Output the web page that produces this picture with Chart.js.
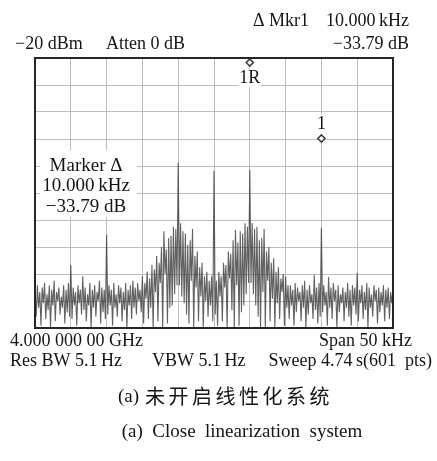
<!DOCTYPE html>
<html>
<head>
<meta charset="utf-8">
<script src="https://cdn.jsdelivr.net/npm/chart.js@4/dist/chart.umd.min.js"></script>
<style>
  html, body { margin: 0; padding: 0; background: #fff; }
  #wrap { width: 437px; height: 461px; position: relative; }
</style>
</head>
<body>
<div id="wrap"><canvas id="spec" width="437" height="461"></canvas></div>
<script>
// ---- sweep setup ----
const spanKHz = 50;
const freqGridKHz = [-25, -20, -15, -10, -5, 0, 5, 10, 15, 20, 25];
const levelGridDBm = [-140, -128, -116, -104, -92, -80, -68, -56, -44, -32, -20];

// ---- measured trace (dBm), left to right across the span ----
const traceLeftNoise = [
  -123, -135, -121, -131, -124, -139, -122, -129, -120, -136,
  -125, -132, -121, -140, -123, -130, -119, -137, -124, -128,
  -122, -134, -126, -131, -121, -138, -123, -133, -120, -135,
  -112, -136, -122, -130, -124, -139, -121, -129, -123, -134,
  -117, -132, -122, -137, -125, -130, -120, -140, -123, -131,
  -121, -135, -124, -128, -119, -138, -122, -133, -123, -136,
  -98.6, -134, -121, -130, -123, -139, -120, -131, -125, -135,
  -121, -129, -122, -137, -124, -132, -120, -140, -123, -130,
  -121, -136, -119, -131, -122, -134, -120, -128
];
const traceLeftTone = [
  -123, -133, -117, -138, -120, -127, -115, -136, -118, -131,
  -112, -140, -114, -124, -108, -137, -111, -120, -104, -140,
  -97, -116, -105, -138, -100, -131, -99, -130, -95, -125,
  -96, -121, -66.6, -121, -93.5, -126, -97, -129, -98, -134,
  -103, -138, -101, -119, -96, -140, -108, -122, -106, -137,
  -113, -126, -111, -140, -117, -128, -115, -135, -119, -130,
  -117, -137
];
const traceCenter = [-70.1];
const traceRightTone = [
  -134, -119, -139, -115, -126, -117, -137, -111, -122, -112,
  -140, -106, -118, -107, -132, -101, -140, -96.4, -121, -102,
  -139, -97, -133, -98, -130, -93.5, -125, -95, -120, -69.7,
  -120, -93.3, -125, -96, -130, -95, -135, -101, -140, -100,
  -124, -96, -140, -106, -119, -104, -137, -111, -127, -109,
  -140, -115, -129, -113, -136, -118, -124, -116, -139, -117,
  -131, -121
];
const traceRightNoise = [
  -136, -121, -130, -123, -139, -120, -133,
  -122, -128, -124, -137, -121, -131, -119, -140, -123, -134,
  -121, -129, -125, -136, -116.4, -132, -122, -138, -120, -135,
  -95.5, -133, -121, -130, -124, -139, -117.3, -131, -122, -136,
  -120, -128, -123, -140, -121, -133, -125, -129, -122, -137,
  -124, -131, -120, -135, -123, -139, -121, -130, -122, -134,
  -115.5, -137, -123, -129, -121, -136, -124, -132, -120, -140,
  -122, -131, -125, -135, -121, -128, -123, -138, -122, -133,
  -124, -130, -121, -137, -123, -131, -122, -136, -124, -129,
  -123
];

// ---- markers ----
const refMarker = { freqKHz: 5, levelDBm: -22.0 };
const deltaMarker = { freqKHz: 10.000, levelDB: -33.79 };

// ---- instrument annotation text ----
const refLevelText = '\u221220 dBm';
const attenText = 'Atten 0 dB';
const centerText = '4.000 000 00 GHz';
const spanText = 'Span ' + spanKHz + ' kHz';
const bwTexts = ['Res BW 5.1\u2009Hz', 'VBW 5.1\u2009Hz', 'Sweep 4.74\u2009s(601  pts)'];
const captionZhTag = '(a)';
const captionZh = '未开启线性化系统';
const captionEn = '(a)  Close  linearization  system';

function fmtDB(v) { return (v < 0 ? '\u2212' : '') + Math.abs(v).toFixed(2) + ' dB'; }
function fmtKHz(v) { return v.toFixed(3) + '\u2009kHz'; }

const trace = [].concat(traceLeftNoise, traceLeftTone, traceCenter, traceRightTone, traceRightNoise);
const step = spanKHz / (trace.length - 1);
const tracePts = trace.map((v, i) => ({ x: -spanKHz / 2 + i * step, y: v }));

const markerPts = [
  { x: refMarker.freqKHz, y: refMarker.levelDBm },
  { x: refMarker.freqKHz + deltaMarker.freqKHz, y: refMarker.levelDBm + deltaMarker.levelDB }
];

const SERIF = '"Liberation Serif", "Times New Roman", serif';
const CJK = '"Noto Sans CJK SC", sans-serif';
const INK = '#141414';

function txt(ctx, s, x, y, size, align, font, spacing) {
  ctx.font = size + 'px ' + (font || SERIF);
  ctx.textAlign = align || 'left';
  ctx.textBaseline = 'middle';
  ctx.fillStyle = INK;
  if ('letterSpacing' in ctx) ctx.letterSpacing = spacing || '0px';
  ctx.fillText(s, x, y);
  if ('letterSpacing' in ctx) ctx.letterSpacing = '0px';
}

const annotate = {
  id: 'annotate',
  beforeDatasetsDraw(chart) {
    const { ctx, scales: { x, y } } = chart;
    ctx.save();
    // marker readout box
    ctx.fillStyle = '#fff';
    ctx.fillRect(40, 150, 97, 67);
    txt(ctx, 'Marker \u0394', 86, 166, 19, 'center');
    txt(ctx, fmtKHz(deltaMarker.freqKHz), 86, 186, 19, 'center');
    txt(ctx, fmtDB(deltaMarker.levelDB), 86, 207, 19, 'center');
    // marker labels
    const rx = x.getPixelForValue(markerPts[0].x), ry = y.getPixelForValue(markerPts[0].y);
    ctx.fillStyle = '#fff';
    ctx.fillRect(rx - 11, ry + 5, 22, 20);
    txt(ctx, '1R', rx, ry + 16, 18, 'center');
    const mx = x.getPixelForValue(markerPts[1].x), my = y.getPixelForValue(markerPts[1].y);
    ctx.fillStyle = '#fff';
    ctx.fillRect(mx - 6, my - 24, 12, 19);
    txt(ctx, '1', mx, my - 14, 18, 'center');
    ctx.restore();
  },
  afterDatasetsDraw(chart) {
    const { ctx, chartArea: a } = chart;
    ctx.save();
    ctx.strokeStyle = '#262626';
    ctx.lineWidth = 2;
    ctx.strokeRect(a.left, a.top, a.right - a.left, a.bottom - a.top);
    ctx.restore();
  },
  afterDraw(chart) {
    const { ctx } = chart;
    ctx.save();
    txt(ctx, '\u0394 Mkr1', 253, 21, 18, 'left');
    txt(ctx, fmtKHz(deltaMarker.freqKHz), 409, 21, 18, 'right');
    txt(ctx, refLevelText, 15, 44, 18, 'left');
    txt(ctx, attenText, 106, 44, 18, 'left');
    txt(ctx, fmtDB(deltaMarker.levelDB), 409, 44, 18, 'right');
    txt(ctx, centerText, 10, 341, 18, 'left');
    txt(ctx, spanText, 412, 341, 18, 'right');
    txt(ctx, bwTexts[0], 10, 361, 18, 'left');
    txt(ctx, bwTexts[1], 152, 361, 18, 'left');
    txt(ctx, bwTexts[2], 432, 361, 18, 'right');
    txt(ctx, captionZhTag, 118, 397, 19, 'left');
    txt(ctx, captionZh, 145, 396, 20, 'left', CJK, '3.5px');
    txt(ctx, captionEn, 242, 432, 19, 'center');
    ctx.restore();
  }
};

new Chart(document.getElementById('spec'), {
  type: 'line',
  data: {
    datasets: [
      {
        data: markerPts,
        showLine: false,
        pointStyle: 'rectRot',
        pointRadius: 3.6,
        pointBorderWidth: 1.5,
        pointBackgroundColor: '#fff',
        pointBorderColor: '#3a3a3a',
        order: 0
      },
      {
        data: tracePts,
        borderColor: 'rgba(58,58,58,0.8)',
        borderWidth: 1.1,
        borderJoinStyle: 'bevel',
        pointRadius: 0,
        tension: 0,
        fill: false,
        order: 1
      }
    ]
  },
  options: {
    responsive: false,
    animation: false,
    events: [],
    layout: { padding: { left: 35, right: 44, top: 58, bottom: 133 } },
    plugins: { legend: { display: false }, tooltip: { enabled: false } },
    scales: {
      x: {
        type: 'linear', min: -spanKHz / 2, max: spanKHz / 2,
        afterBuildTicks: s => { s.ticks = freqGridKHz.map(v => ({ value: v })); },
        ticks: { display: false },
        grid: { color: '#bdbdbd', lineWidth: 1, drawTicks: false },
        border: { display: false }
      },
      y: {
        type: 'linear', min: levelGridDBm[0], max: levelGridDBm[levelGridDBm.length - 1],
        afterBuildTicks: s => { s.ticks = levelGridDBm.map(v => ({ value: v })); },
        ticks: { display: false },
        grid: { color: '#bdbdbd', lineWidth: 1, drawTicks: false },
        border: { display: false }
      }
    }
  },
  plugins: [annotate]
});
</script>
</body>
</html>
